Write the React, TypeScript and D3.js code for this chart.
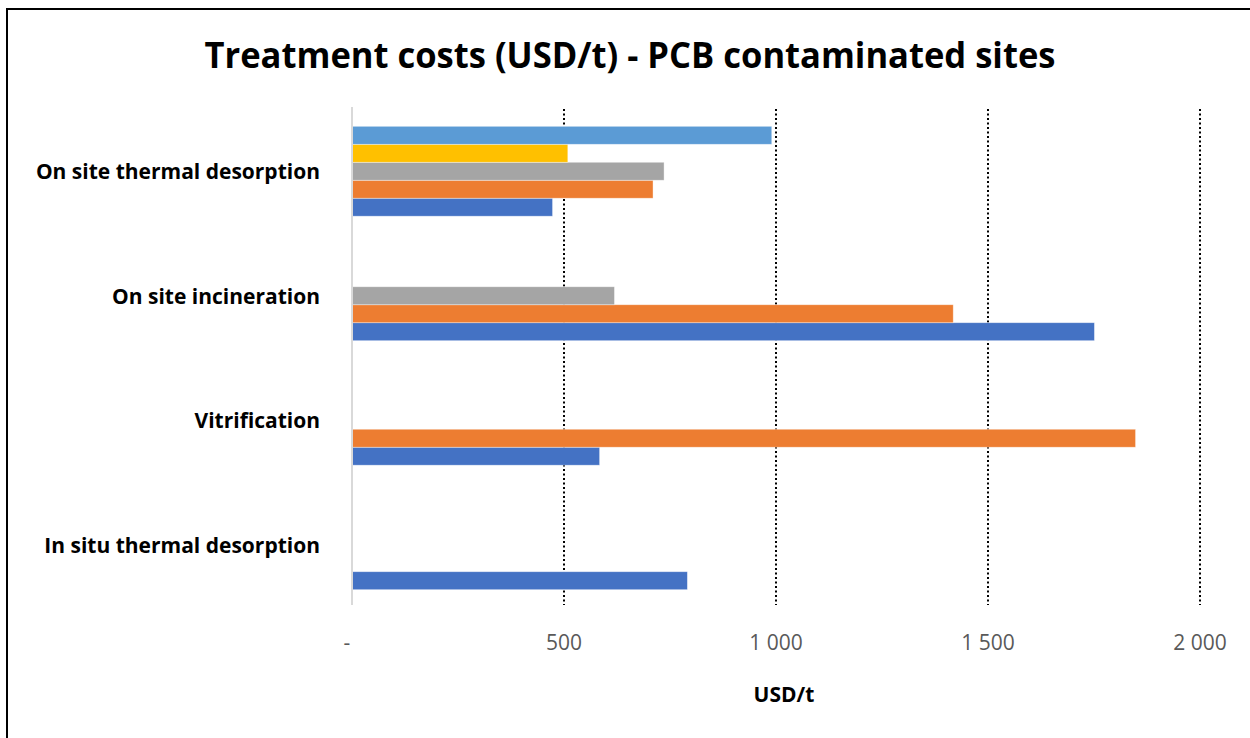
import React from "react";
import * as d3 from "d3";

const categories = [
  "In situ thermal desorption",
  "Vitrification",
  "On site incineration",
  "On site thermal desorption",
];
const seriesNames = ["Series 1", "Series 2", "Series 3", "Series 4", "Series 5"];
const series1 = [791, 584, 1751, 473];
const series2 = [null, 1848, 1418, 710];
const series3 = [null, null, 619, 736];
const series4 = [null, null, null, 509];
const series5 = [null, null, null, 990];
const seriesValues: (number | null)[][] = [series1, series2, series3, series4, series5];
const seriesColors = ["#4472C4", "#ED7D31", "#A5A5A5", "#FFC000", "#5B9BD5"];
const xTicks = [0, 500, 1000, 1500, 2000];
const xTickLabels = ["-", "500", "1 000", "1 500", "2 000"];

const W = 1250;
const H = 738;
const FONT = "'Open Sans', Lato, sans-serif";

export default function App() {
  const x = d3.scaleLinear().domain([0, 2000]).range([352, 1200]);
  const plotTop = 109;
  const plotBottom = 607;
  const y = d3
    .scaleBand<string>()
    .domain([...categories].reverse())
    .range([plotTop, plotBottom])
    .paddingInner(0.278)
    .paddingOuter(0.139);
  const ys = d3
    .scaleBand<string>()
    .domain([...seriesNames].reverse())
    .range([0, y.bandwidth()]);

  return (
    <svg
      width={W}
      height={H}
      style={{ position: "absolute", left: 0, top: 0, background: "#fff" }}
      fontFamily={FONT}
    >
      <rect x={0} y={0} width={W} height={H} fill="#fff" />
      <rect x={7} y={9} width={1400} height={900} fill="none" stroke="#000" strokeWidth={2} />
      <text
        x={630}
        y={68}
        textAnchor="middle"
        fontSize={35}
        fontWeight="bold"
        fill="#000"
        textLength={851}
        lengthAdjust="spacingAndGlyphs"
      >
        Treatment costs (USD/t) - PCB contaminated sites
      </text>
      {xTicks.slice(1).map((t) => (
        <line
          key={t}
          x1={x(t)}
          x2={x(t)}
          y1={plotTop}
          y2={plotBottom - 2}
          stroke="#000"
          strokeWidth={2}
          strokeDasharray="2 2.5"
        />
      ))}
      {categories.map((c, ci) =>
        seriesValues.map((vals, si) => {
          const v = vals[ci];
          if (v == null) return null;
          return (
            <rect
              key={c + si}
              x={x(0)}
              y={(y(c) as number) + (ys(seriesNames[si]) as number)}
              width={x(v) - x(0)}
              height={ys.bandwidth()}
              fill={seriesColors[si]}
              stroke="#ffffff"
              strokeOpacity={0.5}
              strokeWidth={0.75}
            />
          );
        })
      )}
      <line x1={x(0)} x2={x(0)} y1={plotTop - 2} y2={plotBottom - 2} stroke="#D9D9D9" strokeWidth={2} />
      {categories.map((c) => (
        <text
          key={c}
          x={320}
          y={(y(c) as number) + y.bandwidth() / 2 + 8}
          textAnchor="end"
          fontSize={21}
          fontWeight="bold"
          fill="#000"
        >
          {c}
        </text>
      ))}
      {xTicks.map((t, i) => (
        <text
          key={t}
          x={i === 0 ? x(t) - 5 : x(t)}
          y={650}
          textAnchor="middle"
          fontSize={21}
          fill="#595959"
        >
          {xTickLabels[i]}
        </text>
      ))}
      <text x={784} y={702} textAnchor="middle" fontSize={21} fontWeight="bold" fill="#000">
        USD/t
      </text>
    </svg>
  );
}
